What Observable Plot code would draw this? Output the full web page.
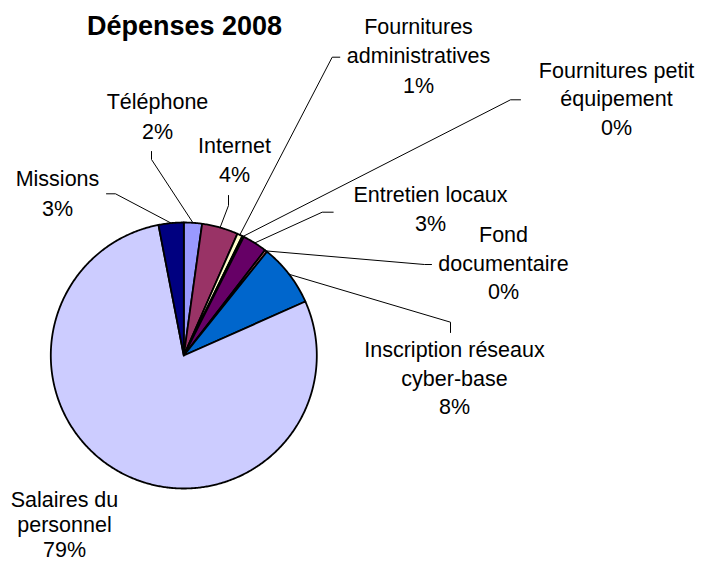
<!DOCTYPE html>
<html><head><meta charset="utf-8">
<script src="https://cdn.jsdelivr.net/npm/d3@7"></script>
<script src="https://cdn.jsdelivr.net/npm/@observablehq/plot@0.6"></script>
<style>html,body{margin:0;padding:0;background:#fff}</style>
</head><body><div id="chart"></div>
<script>
// ---- data ----
const title = "Dépenses 2008";
const categories = ["Téléphone", "Internet", "Fournitures\nadministratives", "Fournitures petit\néquipement",
  "Entretien locaux", "Fond\ndocumentaire", "Inscription réseaux\ncyber-base", "Salaires du\npersonnel", "Missions"];
const values = [2.2, 4.4, 0.65, 0.2, 3.0, 0.3, 7.6, 78.6, 3.05];
const colors = ["#9999FF", "#993366", "#FFFFCC", "#CCFFFF", "#660066", "#FF8080", "#0066CC", "#CCCCFF", "#000080"];

// ---- layout ----
const W = 704, H = 562, cx = 183.3, cy = 355, R = 133;
const FONT = "'Liberation Sans', Arial, sans-serif";
// label block: center x, first baseline, line spacing; leader: elbow and end points
const labelLayout = [
  {x: 157, y: 108, dy: 30.5, leader: [[151, 159], [151, 151]]},
  {x: 234, y: 152, dy: 29, leader: [[228, 205], [228, 195]]},
  {x: 418, y: 33, dy: 29.5, leader: [[331.7, 56.7], [339.3, 56.7]]},
  {x: 616, y: 77, dy: 28.5, leader: [[510, 99.3], [520, 99.3]]},
  {x: 430, y: 201.7, dy: 29, leader: [[321.7, 211.7], [332.7, 211.7]]},
  {x: 503, y: 241.7, dy: 28.3, leader: [[424, 264], [431, 264]]},
  {x: 454, y: 356.7, dy: 28.3, leader: [[450, 321.7], [450, 332]]},
  {x: 64, y: 506, dy: 25.2, leader: null},
  {x: 57, y: 185, dy: 30, leader: [[115, 193.3], [106, 193.3]]}
];

// ---- geometry from data ----
const total = d3.sum(values);
let acc = 0;
const slices = categories.map((c, i) => {
  const a0 = acc / total * 2 * Math.PI; acc += values[i];
  const a1 = acc / total * 2 * Math.PI;
  return {c, i, a0, a1, v: values[i]};
});
const px = (a, r) => cx + r * Math.sin(a), py = (a, r) => cy - r * Math.cos(a);

const slicePts = slices.flatMap(s => {
  const n = Math.max(2, Math.ceil((s.a1 - s.a0) / (Math.PI / 360)));
  const pts = [{c: s.c, x: cx, y: cy}];
  for (let k = 0; k <= n; k++) {
    const a = s.a0 + (s.a1 - s.a0) * k / n;
    pts.push({c: s.c, x: px(a, R), y: py(a, R)});
  }
  pts.push({c: s.c, x: cx, y: cy});
  return pts;
});

const leaderPts = slices.flatMap(s => {
  const L = labelLayout[s.i].leader;
  if (!L) return [];
  const am = (s.a0 + s.a1) / 2;
  return [{c: s.c, x: px(am, R), y: py(am, R)}, ...L.map(([x, y]) => ({c: s.c, x, y}))];
});

const labelLines = slices.flatMap(s => {
  const L = labelLayout[s.i];
  const lines = [...s.c.split("\n"), Math.round(s.v / total * 100) + "%"];
  return lines.map((t, k) => ({t, x: L.x, y: L.y + k * L.dy}));
});

const chart = Plot.plot({
  width: W, height: H, margin: 0,
  x: {domain: [0, W], range: [0, W], axis: null},
  y: {domain: [0, H], range: [0, H], axis: null},
  color: {domain: categories, range: colors},
  style: {fontFamily: FONT, background: "#fff"},
  marks: [
    Plot.line(slicePts, {x: "x", y: "y", z: "c", fill: "c", stroke: "#000", strokeWidth: 1.8,
      strokeLinejoin: "round", strokeLinecap: "round"}),
    Plot.line(leaderPts, {x: "x", y: "y", z: "c", stroke: "#000", strokeWidth: 1}),
    Plot.text(labelLines, {x: "x", y: "y", text: "t", fontSize: 21.5, fill: "#000",
      textAnchor: "middle", lineAnchor: "bottom", fontFamily: FONT}),
    Plot.text([{t: title, x: 184, y: 34}], {x: "x", y: "y", text: "t", fontSize: 27, fontWeight: "bold",
      fill: "#000", textAnchor: "middle", lineAnchor: "bottom", fontFamily: FONT})
  ]
});
document.getElementById("chart").appendChild(chart);
</script>
</body></html>
